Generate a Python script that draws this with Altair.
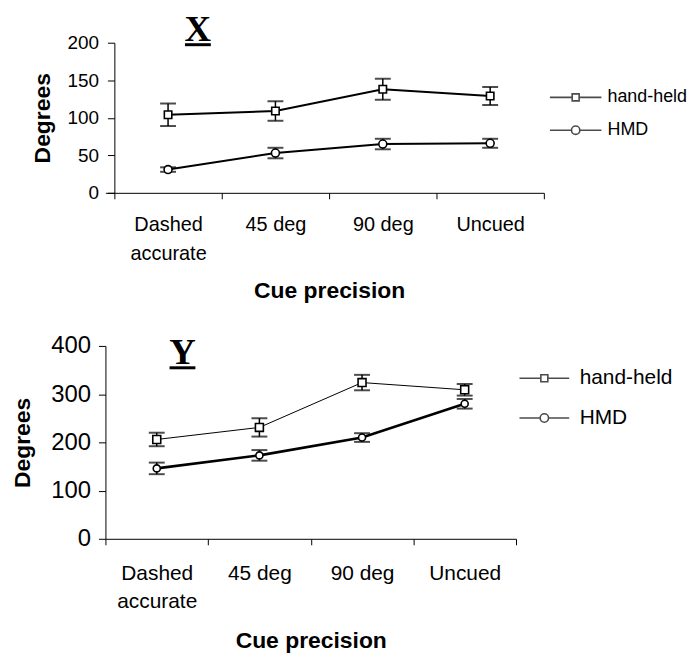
import altair as alt
import pandas as pd

# ---------------- data ----------------
categories = ["Dashed accurate", "45 deg", "90 deg", "Uncued"]
series = ["hand-held", "HMD"]
panel_labels = ["X", "Y"]

x_handheld = [104, 109, 138, 129]
x_handheld_err = [15, 13, 14, 12]
x_hmd = [31, 53, 65, 66]
x_hmd_err = [3, 7, 7, 6]

y_handheld = [206, 231, 324, 309]
y_handheld_err = [14, 19, 16, 12]
y_hmd = [146, 173, 210, 280]
y_hmd_err = [12, 11, 9, 10]

x_ticks = [0, 50, 100, 150, 200]
y_ticks = [0, 100, 200, 300, 400]

SANS = "Liberation Sans"
SERIF = "Liberation Serif"
LABEL_EXPR = "datum.label == 'Dashed accurate' ? ['Dashed', 'accurate'] : datum.label"


def frame(hh, hh_e, hmd, hmd_e):
    rows = []
    for s, vals, errs in [(series[0], hh, hh_e), (series[1], hmd, hmd_e)]:
        for c, v, e in zip(categories, vals, errs):
            rows.append({"cue": c, "series": s, "deg": v, "lo": v - e, "hi": v + e})
    return pd.DataFrame(rows)


def legend_paths(half):
    sq = f"M-{half},0H-0.5M0.5,0H{half}M-0.5,-0.5H0.5V0.5H-0.5Z"
    ci = (f"M-{half},0H-0.6M0.6,0H{half}"
          "M-0.6,0A0.6,0.6,0,1,0,0.6,0A0.6,0.6,0,1,0,-0.6,0Z")
    return [sq, ci]


def panel(df, p):
    xscale = alt.Scale(type="band", paddingInner=0,
                       paddingOuter=p["pad_outer"], align=1)
    xaxis = alt.Axis(
        title="Cue precision", labelExpr=LABEL_EXPR, labelAngle=0,
        tickBand="extent", tickSize=6, tickColor="black", domainColor="black",
        labelFont=SANS, labelFontSize=p["xlab_fs"], labelColor="black",
        labelBaseline="alphabetic", labelPadding=p["xlab_pad"],
        labelLineHeight=p["xlab_lh"],
        titleFont=SANS, titleFontSize=23, titleFontWeight="bold", titleColor="black",
        titleX=p["xtitle_x"], titleY=p["xtitle_y"], titleBaseline="alphabetic",
        grid=False,
    )
    yaxis = alt.Axis(
        title="Degrees", values=p["yticks"], offset=p["yoff"],
        tickSize=7, tickColor="black", domainColor="black",
        labelFont=SANS, labelFontSize=p["ylab_fs"], labelColor="black",
        labelPadding=p["ylab_pad"],
        titleFont=SANS, titleFontSize=23, titleFontWeight="bold", titleColor="black",
        titleX=p["ytitle_x"], titleBaseline="alphabetic", grid=False,
    )
    yscale = alt.Scale(domain=[0, p["ymax"]], nice=False)

    def X():
        return alt.X("cue:N", sort=categories, bandPosition=0.5, scale=xscale, axis=xaxis)

    def Y(field):
        return alt.Y(f"{field}:Q", scale=yscale, axis=yaxis)

    base = alt.Chart(df)
    layers = []
    for s, sw in zip(series, p["line_w"]):
        layers.append(
            base.transform_filter(alt.datum.series == s)
            .mark_line(color="black", strokeWidth=sw)
            .encode(x=X(), y=Y("deg"))
        )
    layers.append(base.mark_rule(color="black", strokeWidth=1.5).encode(
        x=X(), y=Y("lo"), y2="hi:Q"))
    for f in ["lo", "hi"]:
        layers.append(base.mark_tick(color="black", size=16, thickness=2).encode(
            x=X(), y=Y(f)))
    for s, shp, sz in zip(series, ["square", "circle"], p["pt_size"]):
        layers.append(
            base.transform_filter(alt.datum.series == s)
            .mark_point(shape=shp, size=sz, filled=True, fill="white",
                        stroke="black", strokeWidth=1.6, opacity=1)
            .encode(x=X(), y=Y("deg"))
        )
    # legend (drawn by the library's legend from an empty layer)
    layers.append(
        base.transform_filter("false")
        .mark_point(filled=False, color="black", size=196, strokeWidth=1.6)
        .encode(
            x=X(), y=Y("deg"),
            shape=alt.Shape(
                "series:N",
                scale=alt.Scale(domain=series, range=legend_paths(p["leg_half"])),
                legend=alt.Legend(
                    title=None, orient="none", legendX=p["leg_x"], legendY=p["leg_y"],
                    labelFont=SANS, labelFontSize=p["leg_fs"], labelColor="black",
                    labelOffset=p["leg_lab_off"], rowPadding=p["leg_row_pad"],
                    symbolSize=196, symbolStrokeWidth=1.6, symbolStrokeColor="black",
                    symbolFillColor="white", padding=0,
                ),
            ),
        )
    )
    # panel letter with underline
    tdf = pd.DataFrame({"t": [p["letter"]]})
    layers.append(
        alt.Chart(tdf).mark_text(font=SERIF, fontSize=37, fontWeight="bold",
                                 baseline="alphabetic", align="center", color="black")
        .encode(x=alt.value(p["let_x"]), y=alt.value(p["let_y"]), text="t:N")
    )
    layers.append(
        alt.Chart(tdf).mark_rule(color="black", strokeWidth=3)
        .encode(x=alt.value(p["let_x"] - 13), x2=alt.value(p["let_x"] + 13),
                y=alt.value(p["let_y"] + 4))
    )
    return alt.layer(*layers).properties(width=p["w"], height=p["h"])


top_p = dict(
    w=441, h=151, pad_outer=0.0417, yoff=-9, ymax=200, yticks=x_ticks,
    xlab_fs=20, xlab_pad=32, xlab_lh=29, xtitle_x=225, xtitle_y=105,
    ylab_fs=19, ylab_pad=9, ytitle_x=-65,
    line_w=[2, 2], pt_size=[56, 64],
    leg_half=3.7, leg_x=464, leg_y=46, leg_fs=18, leg_lab_off=23, leg_row_pad=15,
    letter=panel_labels[0], let_x=93, let_y=-2,
)
bot_p = dict(
    w=413, h=194, pad_outer=0, yoff=0, ymax=400, yticks=y_ticks,
    xlab_fs=21, xlab_pad=35, xlab_lh=28, xtitle_x=206.5, xtitle_y=109,
    ylab_fs=24, ylab_pad=8, ytitle_x=-76,
    line_w=[1, 2.6], pt_size=[64, 50],
    leg_half=3.57, leg_x=431, leg_y=22, leg_fs=21, leg_lab_off=25, leg_row_pad=18,
    letter=panel_labels[1], let_x=77.5, let_y=18,
)

top = panel(frame(x_handheld, x_handheld_err, x_hmd, x_hmd_err), top_p)
bottom = panel(frame(y_handheld, y_handheld_err, y_hmd, y_hmd_err), bot_p)

chart = (
    alt.vconcat(top, bottom, spacing=32)
    .resolve_scale(x="independent", y="independent", shape="independent")
    .resolve_legend(shape="independent")
    .properties(padding={"left": 3, "top": 1, "right": 0, "bottom": 5})
    .configure(background="white")
    .configure_view(stroke=None)
)

chart.save("out.html", embed_options={"renderer": "svg", "actions": False})
